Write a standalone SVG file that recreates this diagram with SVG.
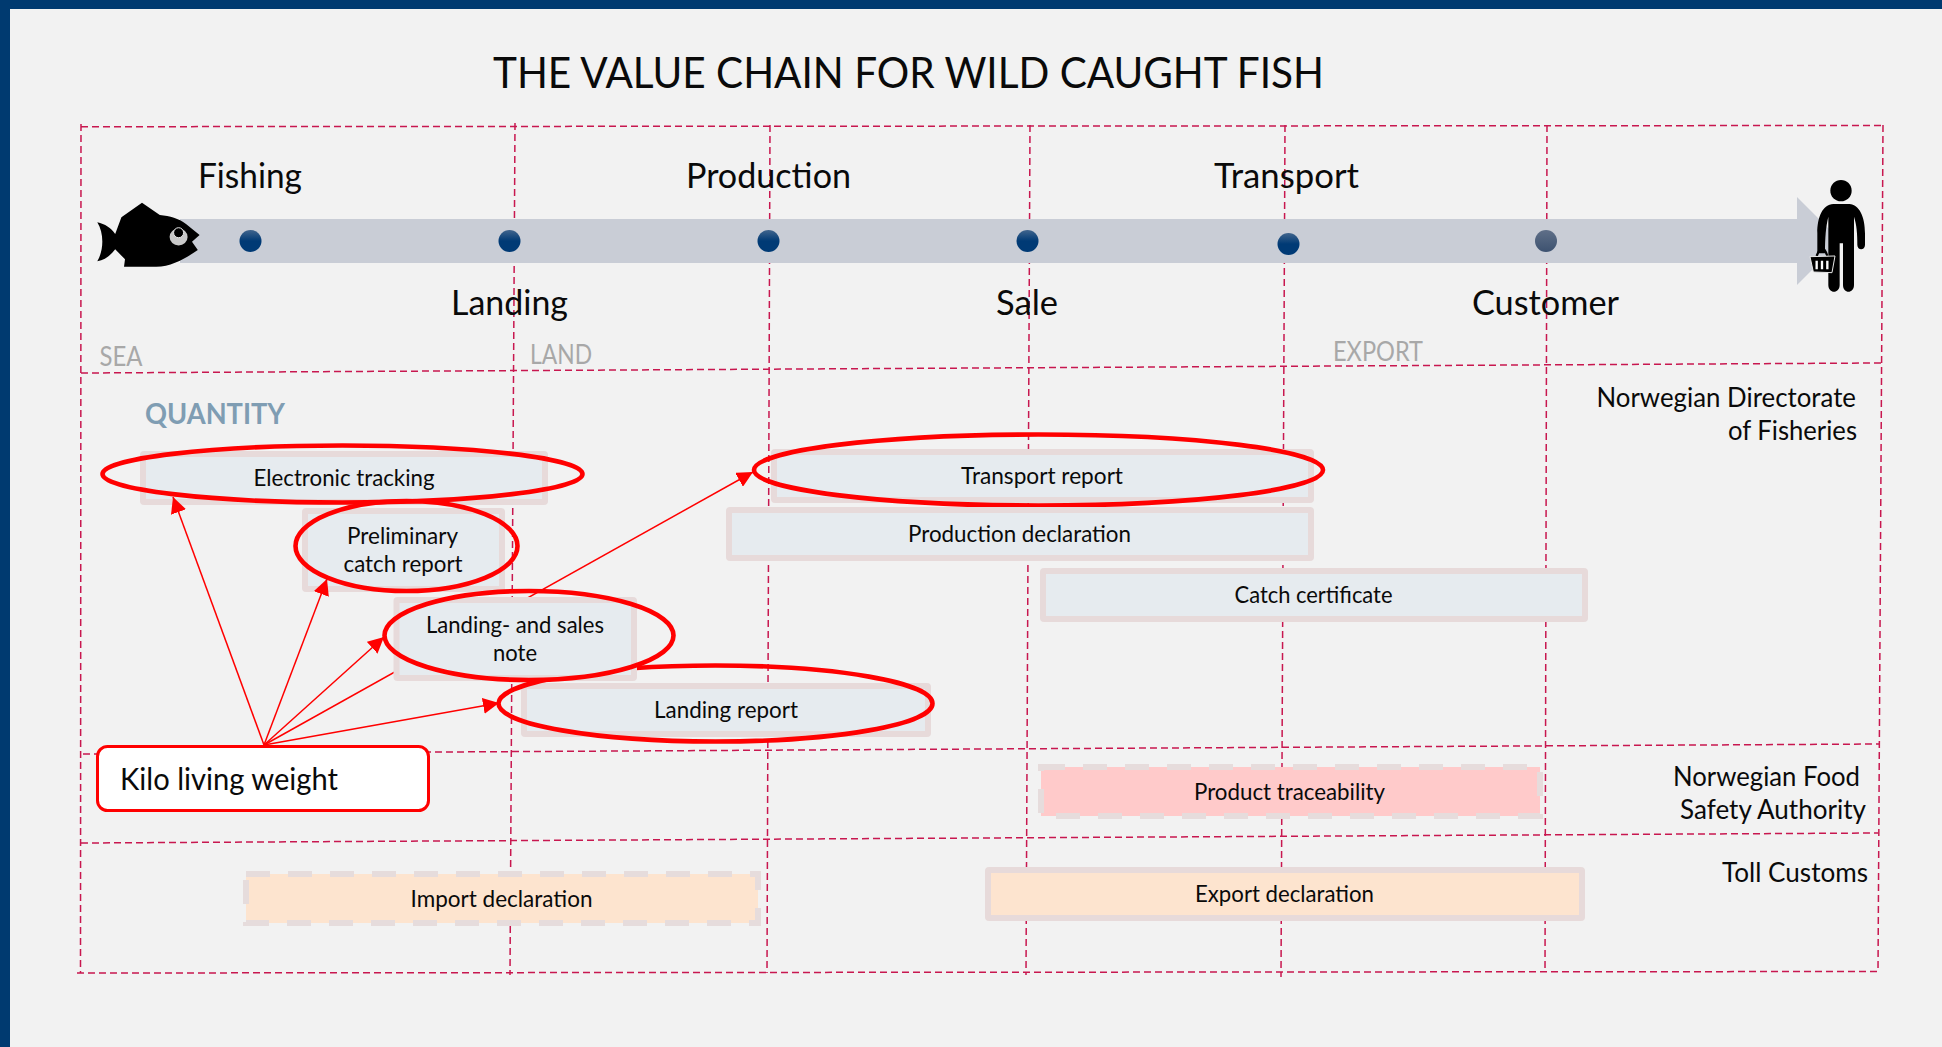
<svg xmlns="http://www.w3.org/2000/svg" width="1942" height="1047" viewBox="0 0 1942 1047">
<style>
text{font-family:Lato,"Open Sans","Liberation Sans",sans-serif;fill:#0a0a0a}
.g{fill:none;stroke:#c8174f;stroke-width:1.5;stroke-dasharray:7 4}
.h{font-size:35px}
.z{font-size:26px;fill:#a8a8a8}
.r{font-size:27px}
.t{font-size:23px}
.b{fill:#e6ebef;stroke:#e7dada;stroke-width:6}
.o{fill:none;stroke:#f00;stroke-width:4.6}
.c{fill:none;stroke:#f00;stroke-width:1.5}
.d{stroke:#e6dcdc;stroke-width:6;stroke-dasharray:24 18}
</style>
<defs>
<linearGradient id="dotBlue" x1="0" y1="0" x2="0" y2="1"><stop offset="0" stop-color="#41658d"/><stop offset=".5" stop-color="#003a75"/><stop offset="1" stop-color="#003a75"/></linearGradient>
<linearGradient id="dotGrey" x1="0" y1="0" x2="0" y2="1"><stop offset="0" stop-color="#5f6f88"/><stop offset="1" stop-color="#3d5270"/></linearGradient>
<marker id="ah" markerUnits="userSpaceOnUse" markerWidth="18" markerHeight="16" refX="16" refY="8" orient="auto"><path d="M0 0L16 8L0 16Z" fill="#f00"/></marker>
</defs>
<rect width="1942" height="1047" fill="#f2f2f2"/>
<rect width="1942" height="9" fill="#003a70"/>
<rect width="10" height="1047" fill="#003a70"/>
<g id="title"><text x="493" y="88" font-size="43" textLength="831" lengthAdjust="spacingAndGlyphs">THE VALUE CHAIN FOR WILD CAUGHT FISH</text></g>
<g id="grid">
<path class="g" d="M81 126.7L1883 125.5"/>
<path class="g" d="M81 373L1881 363"/>
<path class="g" d="M83 754L1880 744"/>
<path class="g" d="M81 843L1878 833"/>
<path class="g" d="M77 973L1878 971.5"/>
<path class="g" d="M81 124L80.5 973"/>
<path class="g" d="M515 123L510 975"/>
<path class="g" d="M770 125L767 973"/>
<path class="g" d="M1030 125L1026 975"/>
<path class="g" d="M1285 125L1281 977"/>
<path class="g" d="M1547 125L1545 972"/>
<path class="g" d="M1883 125L1878 972"/>
</g>
<g id="timeline">
<path d="M180 219H1797V197L1841 241L1797 285V263H180Z" fill="#c9cdd6"/>
<circle cx="250.500" cy="241" r="11" fill="url(#dotBlue)"/>
<circle cx="509.500" cy="241" r="11" fill="url(#dotBlue)"/>
<circle cx="768.500" cy="241" r="11" fill="url(#dotBlue)"/>
<circle cx="1027.500" cy="241" r="11" fill="url(#dotBlue)"/>
<circle cx="1288.500" cy="244" r="11" fill="url(#dotBlue)"/>
<circle cx="1546" cy="241" r="11" fill="url(#dotGrey)"/>
</g>
<g id="fish">
<path d="M97.3 222.3C105 224 111 228 115.2 234L121.4 217.3L142 202.7L159.8 215C170 216 178.6 218.3 186 224L199.6 235L192 241.7L197.8 250C186 258 172 266.7 156.3 266.7L124 266.7L125 259.3L115.2 249.3C111 255 105 260 97.3 261.3C104 250 104 233 97.3 222.3Z" fill="#000"/>
<ellipse cx="178.6" cy="237" rx="9" ry="8.5" fill="#c9c9c9"/>
<circle cx="178.6" cy="232.7" r="5" fill="#000" stroke="#e8e8e8" stroke-width="1"/>
</g>
<g id="person">
<g transform="translate(1500 100) scale(.33333)">
<circle cx="1023" cy="272" r="32" fill="#000"/>
<path d="M1000 312H1048C1078 314 1095 350 1095 400V435C1095 452 1072 452 1072 435C1072 400 1070 375 1062 350V555C1062 582 1029 582 1029 555V430H1019V555C1019 582 985 582 985 555V350C978 380 975 410 975 460H952V400C952 350 968 314 1000 312Z" fill="#000"/>
<path d="M950 468C955 455 960 445 965 445C972 445 978 455 982 468" fill="none" stroke="#000" stroke-width="7"/>
<path d="M930 470L1005 468L996 518L940 516Z" fill="#000" stroke="#e8e8e8" stroke-width="3"/>
<path d="M950 482V508M966 482V508M982 482V508" stroke="#fff" stroke-width="7"/>
</g>
</g>
<g id="stage-labels">
<text class="h" x="198" y="188" textLength="104" lengthAdjust="spacingAndGlyphs">Fishing</text>
<text class="h" x="686" y="188" textLength="165" lengthAdjust="spacingAndGlyphs">Production</text>
<text class="h" x="1214" y="188" textLength="145" lengthAdjust="spacingAndGlyphs">Transport</text>
<text class="h" x="451" y="315" textLength="117" lengthAdjust="spacingAndGlyphs">Landing</text>
<text class="h" x="996" y="315" textLength="62" lengthAdjust="spacingAndGlyphs">Sale</text>
<text class="h" x="1472" y="315" textLength="147" lengthAdjust="spacingAndGlyphs">Customer</text>
<text class="z" x="99.5" y="366" textLength="43" lengthAdjust="spacingAndGlyphs">SEA</text>
<text class="z" x="530" y="364" textLength="62" lengthAdjust="spacingAndGlyphs">LAND</text>
<text class="z" x="1333" y="361" textLength="90" lengthAdjust="spacingAndGlyphs">EXPORT</text>
<text x="145" y="424" font-size="28" font-weight="700" style="fill:#7f9db3" textLength="140" lengthAdjust="spacingAndGlyphs">QUANTITY</text>
</g>
<g id="authorities">
<text class="r" x="1596.500" y="407" textLength="259.500" lengthAdjust="spacingAndGlyphs">Norwegian Directorate</text>
<text class="r" x="1728" y="440" textLength="129" lengthAdjust="spacingAndGlyphs">of Fisheries</text>
<text class="r" x="1673" y="786" textLength="187" lengthAdjust="spacingAndGlyphs">Norwegian Food</text>
<text class="r" x="1680" y="819" textLength="186" lengthAdjust="spacingAndGlyphs">Safety Authority</text>
<text class="r" x="1722" y="882" textLength="146" lengthAdjust="spacingAndGlyphs">Toll Customs</text>
</g>
<g id="electronic-tracking">
<rect class="b" x="143" y="454" width="402" height="48" rx="1"/>
<text class="t" x="253.500" y="486" textLength="181" lengthAdjust="spacingAndGlyphs">Electronic tracking</text>
<ellipse class="o" cx="342.5" cy="474" rx="240" ry="28.500"/>
</g>
<g id="preliminary-catch-report">
<rect class="b" x="305" y="511" width="197" height="78" rx="1"/>
<text class="t" x="347" y="544" textLength="111" lengthAdjust="spacingAndGlyphs">Preliminary</text>
<text class="t" x="343.500" y="572" textLength="119" lengthAdjust="spacingAndGlyphs">catch report</text>
<ellipse class="o" cx="406.500" cy="546" rx="111" ry="45"/>
</g>
<g id="transport-report">
<rect class="b" x="774" y="452" width="537" height="48" rx="1"/>
<text class="t" x="961" y="484" textLength="162" lengthAdjust="spacingAndGlyphs">Transport report</text>
<ellipse class="o" cx="1038.500" cy="470" rx="284.500" ry="35.500"/>
</g>
<g id="production-declaration">
<rect class="b" x="729" y="510" width="582" height="48" rx="1"/>
<text class="t" x="908" y="542" textLength="223" lengthAdjust="spacingAndGlyphs">Production declaration</text>
</g>
<g id="catch-certificate">
<rect class="b" x="1043" y="571" width="542" height="48" rx="1"/>
<text class="t" x="1234.500" y="603" textLength="158" lengthAdjust="spacingAndGlyphs">Catch certificate</text>
</g>
<g id="landing-report">
<rect class="b" x="524" y="686" width="404" height="48" rx="1"/>
<text class="t" x="654" y="718" textLength="144" lengthAdjust="spacingAndGlyphs">Landing report</text>
<ellipse class="o" cx="715.500" cy="703.500" rx="217" ry="38"/>
</g>
<g id="connectors">
<path class="c" d="M264 745L173 497" marker-end="url(#ah)"/>
<path class="c" d="M264 745L327 579" marker-end="url(#ah)"/>
<path class="c" d="M264 745L384 637" marker-end="url(#ah)"/>
<path class="c" d="M264 745L499 703" marker-end="url(#ah)"/>
<path class="c" d="M264 745L753 472" marker-end="url(#ah)"/>
</g>
<g id="landing-sales-note">
<rect class="b" x="396.500" y="600" width="237.500" height="78" rx="1"/>
<text class="t" x="426" y="633" textLength="178" lengthAdjust="spacingAndGlyphs">Landing- and sales</text>
<text class="t" x="493" y="661" textLength="44" lengthAdjust="spacingAndGlyphs">note</text>
<ellipse class="o" cx="529" cy="635.500" rx="144.500" ry="44.500"/>
</g>
<g id="kilo-living-weight">
<rect x="97.500" y="746.500" width="331" height="64" rx="10" fill="#fff" stroke="#f00" stroke-width="3"/>
<text x="120" y="790" font-size="30" textLength="218" lengthAdjust="spacingAndGlyphs">Kilo living weight</text>
</g>
<g id="product-traceability">
<rect class="d" x="1041" y="767" width="499" height="49" fill="#ffcaca"/>
<text class="t" x="1194" y="800" textLength="191" lengthAdjust="spacingAndGlyphs">Product traceability</text>
</g>
<g id="import-declaration">
<rect class="d" x="246" y="874" width="512" height="49" fill="#fde4cf"/>
<text class="t" x="410.500" y="907" textLength="182" lengthAdjust="spacingAndGlyphs">Import declaration</text>
</g>
<g id="export-declaration">
<rect x="988" y="870" width="594" height="48" rx="1" fill="#fde4cf" stroke="#e7dada" stroke-width="6"/>
<text class="t" x="1195" y="902" textLength="179" lengthAdjust="spacingAndGlyphs">Export declaration</text>
</g>
</svg>
